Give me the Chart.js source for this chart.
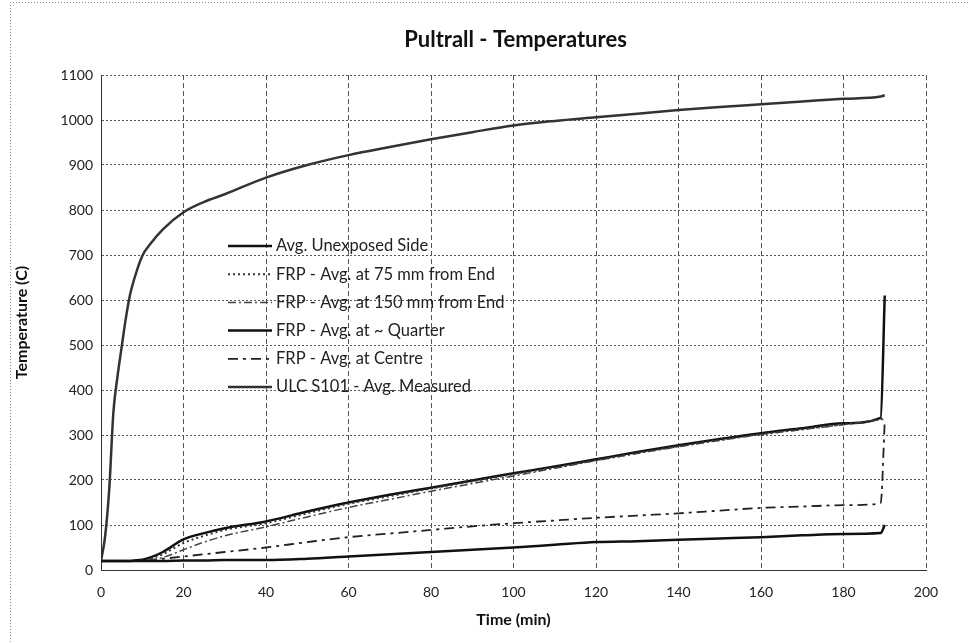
<!DOCTYPE html>
<html>
<head>
<meta charset="utf-8">
<script src="https://cdn.jsdelivr.net/npm/chart.js@4.4.1/dist/chart.umd.min.js"></script>
<style>
  html, body { margin: 0; padding: 0; background: #fff; }
  #wrap { width: 969px; height: 643px; }
</style>
</head>
<body>
<div id="wrap"><canvas id="tempChart" width="969" height="643"></canvas></div>
<script>
// time (min)
const times = [0, 1, 2, 3, 4, 5, 6, 7, 8, 10, 12, 15, 20, 25, 30, 40, 50, 60, 70, 80, 90, 100, 110, 120, 130, 140, 150, 160, 170, 180, 189, 190];

const unexposedSide = [20, 20, 20, 20, 20, 20, 20, 20, 20, 20, 20, 20, 21, 21, 22, 22, 25, 30, 35, 40, 45, 50, 56, 62, 64, 67, 70, 73, 77, 80, 82, 100];
const frp75 = [20, 20, 20, 20, 20, 20, 20, 20, 20, 21, 25, 35, 60, 76, 89, 104, 126, 147, 164, 181, 197, 213, 228, 244, 260, 275, 289, 302, 313, 324, 336, 340];
const frp150 = [20, 20, 20, 20, 20, 20, 20, 20, 20, 20, 22, 28, 45, 62, 76, 96, 118, 139, 157, 175, 192, 209, 226, 243, 259, 274, 288, 301, 312, 323, 334, 335];
const frpQuarter = [20, 20, 20, 20, 20, 20, 20, 20, 21, 23, 28, 40, 68, 82, 93, 108, 130, 150, 167, 183, 199, 215, 230, 246, 262, 277, 291, 304, 315, 326, 338, 610];
const frpCentre = [20, 20, 20, 20, 20, 20, 20, 20, 20, 20, 22, 25, 30, 35, 40, 50, 62, 73, 81, 89, 97, 104, 110, 116, 121, 126, 132, 138, 141, 144, 148, 330];
const ulcS101 = [20, 75, 180, 350, 430, 495, 558, 610, 645, 698, 725, 757, 795, 818, 835, 872, 900, 922, 940, 957, 973, 988, 998, 1006, 1014, 1022, 1029, 1035, 1041, 1047, 1052, 1055];

const xTicks = [0, 20, 40, 60, 80, 100, 120, 140, 160, 180, 200];
const yTicks = [0, 100, 200, 300, 400, 500, 600, 700, 800, 900, 1000, 1100];

const FONT = 'Lato, "Open Sans", sans-serif';

const pts = vals => times.map((t, i) => ({ x: t, y: vals[i] }));

const mkSet = (label, vals, color, width, dash) => ({
  label,
  data: pts(vals),
  borderColor: color,
  backgroundColor: color,
  borderWidth: width,
  borderDash: dash,
  pointRadius: 0,
  fill: false,
  cubicInterpolationMode: 'monotone'
});

// title, frame and the legend inside the plot
const decor = {
  id: 'decor',
  beforeDraw(chart) {
    const { ctx, width, height } = chart;
    ctx.save();
    ctx.fillStyle = '#fff';
    ctx.fillRect(0, 0, width, height);
    ctx.strokeStyle = '#888';
    ctx.lineWidth = 1;
    ctx.setLineDash([1, 2]);
    ctx.beginPath();
    ctx.moveTo(10, 2.5);
    ctx.lineTo(width, 2.5);
    ctx.moveTo(10.5, 2);
    ctx.lineTo(10.5, height);
    ctx.stroke();
    ctx.restore();
  },
  afterDatasetsDraw(chart) {
    const { ctx, chartArea } = chart;
    ctx.save();
    ctx.fillStyle = '#111';
    ctx.font = 'bold 22px ' + FONT;
    ctx.textAlign = 'center';
    ctx.textBaseline = 'middle';
    ctx.fillText('Pultrall - Temperatures', (chartArea.left + chartArea.right) / 2 + 2, 40);

    const x0 = chartArea.left + 127;
    const y0 = chartArea.top + 171;
    ctx.font = '16.5px ' + FONT;
    ctx.textAlign = 'left';
    chart.data.datasets.forEach((ds, i) => {
      const y = y0 + i * 28.2;
      ctx.strokeStyle = ds.borderColor;
      ctx.lineWidth = ds.borderWidth;
      ctx.setLineDash(ds.borderDash || []);
      ctx.beginPath();
      ctx.moveTo(x0, y);
      ctx.lineTo(x0 + 44, y);
      ctx.stroke();
      ctx.fillStyle = '#222';
      ctx.fillText(ds.label, x0 + 48, y);
    });
    ctx.restore();
  }
};

new Chart(document.getElementById('tempChart'), {
  type: 'line',
  data: {
    datasets: [
      mkSet('Avg. Unexposed Side', unexposedSide, '#111', 2.5, []),
      mkSet('FRP - Avg. at 75 mm from End', frp75, '#333', 2, [2, 3]),
      mkSet('FRP - Avg. at 150 mm from End', frp150, '#444', 1.5, [8, 3, 2, 3]),
      mkSet('FRP - Avg. at ~ Quarter', frpQuarter, '#111', 2.5, []),
      mkSet('FRP - Avg. at Centre', frpCentre, '#222', 1.8, [10, 5, 3, 5]),
      mkSet('ULC S101 - Avg. Measured', ulcS101, '#333', 2.5, [])
    ]
  },
  options: {
    responsive: false,
    animation: false,
    layout: { padding: { top: 75, right: 43, left: 10, bottom: 0 } },
    plugins: {
      legend: { display: false },
      title: { display: false },
      tooltip: { enabled: false }
    },
    scales: {
      x: {
        type: 'linear',
        min: 0,
        max: 200,
        afterBuildTicks: s => { s.ticks = xTicks.map(v => ({ value: v })); },
        afterFit: s => { s.height = 73; },
        grid: { color: '#555', lineWidth: 1, drawTicks: false },
        border: { color: '#333', dash: [5, 3] },
        ticks: { padding: 14, color: '#222', font: { family: FONT, size: 14 }, callback: v => String(v) },
        title: {
          display: true,
          text: 'Time (min)',
          color: '#111',
          font: { family: FONT, size: 16, weight: 'bold' },
          padding: { top: 0, bottom: 14 }
        }
      },
      y: {
        min: 0,
        max: 1100,
        afterBuildTicks: s => { s.ticks = yTicks.map(v => ({ value: v })); },
        afterFit: s => { s.width = 91; },
        grid: { color: '#555', lineWidth: 1, drawTicks: false },
        border: { color: '#333', dash: [2, 2] },
        ticks: { padding: 8, color: '#222', font: { family: FONT, size: 14 }, callback: v => String(v) },
        title: {
          display: true,
          text: 'Temperature (C)',
          color: '#111',
          font: { family: FONT, size: 16, weight: 'bold' },
          padding: { top: 2, bottom: 0 }
        }
      }
    }
  },
  plugins: [decor]
});
</script>
</body>
</html>
